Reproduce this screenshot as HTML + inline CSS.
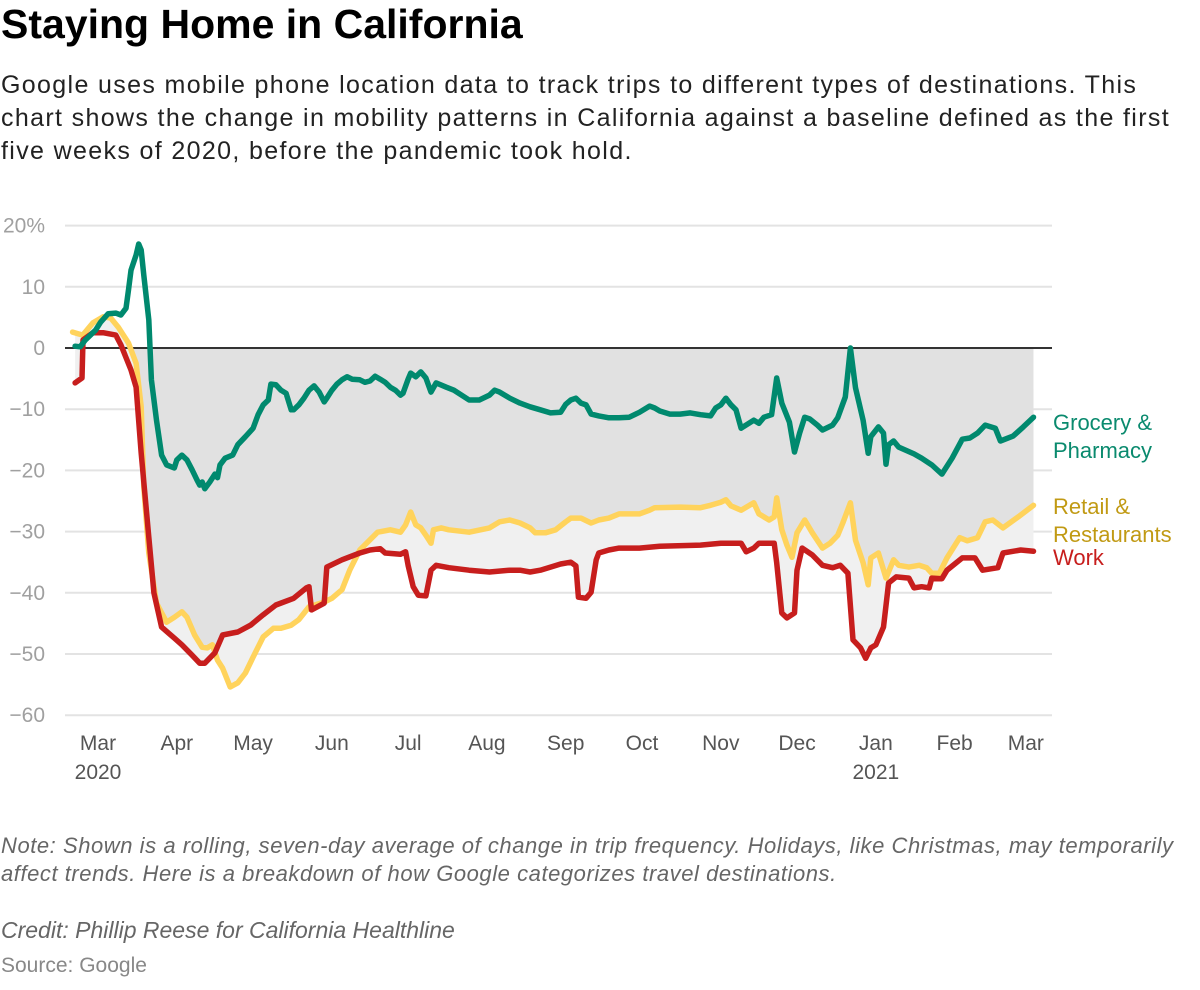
<!DOCTYPE html>
<html><head><meta charset="utf-8">
<style>
body{margin:0;background:#fff;font-family:"Liberation Sans",sans-serif;}
#wrap{position:relative;width:1200px;height:990px;overflow:hidden;}
h1{position:absolute;left:1px;top:1px;margin:0;font-size:41px;font-weight:bold;color:#000;white-space:nowrap;}
.sub{position:absolute;left:1px;top:69px;width:1199px;font-size:25px;letter-spacing:1.35px;line-height:33px;color:#222;margin:0;white-space:nowrap;}
.note{position:absolute;left:1px;font-style:italic;font-size:22px;line-height:28px;color:#666;margin:0;white-space:nowrap;}
.src{position:absolute;left:1px;top:954px;font-size:21px;color:#888;margin:0;}
svg{position:absolute;left:0;top:0;}
</style></head><body>
<div id="wrap">
<h1>Staying Home in California</h1>
<p class="sub">Google uses mobile phone location data to track trips to different types of destinations. This<br>chart shows the change in mobility patterns in California against a baseline defined as the first<br>five weeks of 2020, before the pandemic took hold.</p>
<svg id="chart" width="1200" height="990"></svg>
<p class="note" style="top:832px;letter-spacing:0.55px">Note: Shown is a rolling, seven-day average of change in trip frequency. Holidays, like Christmas, may temporarily<br>affect trends. Here is a breakdown of how Google categorizes travel destinations.</p>
<p class="note" style="top:916px;font-size:23px">Credit: Phillip Reese for California Healthline</p>
<p class="src">Source: Google</p>
</div>
<script>
// days since 2020-03-01
const groceryDays=[-9,-7,-5,-1,1,4,7,9,11,12,13,15,16,17,18,20,21,23,25,27,30,31,33,35,37,39,40,41,42,44,46,47,48,50,53,55,58,61,63,65,67,68,70,72,74,76,77,79,81,83,85,87,89,90,92,94,96,98,100,103,105,107,109,111,113,115,117,119,120,122,123,125,127,129,131,133,137,140,146,150,154,156,158,162,166,170,174,178,182,184,186,188,190,192,194,197,201,205,209,213,217,219,221,225,229,233,237,241,243,245,247,249,251,253,258,260,262,265,267,269,272,274,276,278,280,283,285,289,291,294,296,298,301,303,304,307,309,310,311,313,315,321,324,328,332,336,340,343,346,349,353,355,360,364,368];
const groceryVals=[0.3,0.2,1.3,2.9,4.2,5.6,5.7,5.4,6.5,9.5,12.7,15.2,17,16,11.9,4.6,-5.2,-11.8,-17.5,-19.1,-19.6,-18.3,-17.5,-18.3,-19.9,-21.6,-22.4,-21.9,-23,-21.9,-20.6,-21.2,-19.1,-18,-17.5,-15.8,-14.5,-13.1,-10.9,-9.3,-8.5,-5.9,-6,-6.9,-7.4,-10.1,-10.1,-9.3,-8.2,-6.9,-6.2,-7.2,-8.8,-8.2,-6.9,-5.9,-5.2,-4.7,-5.1,-5.2,-5.6,-5.4,-4.6,-5.1,-5.6,-6.4,-6.9,-7.7,-7.4,-5.1,-4.1,-4.7,-3.9,-4.9,-7.2,-5.7,-6.4,-6.9,-8.5,-8.5,-7.7,-6.9,-7.2,-8.2,-9,-9.6,-10.1,-10.6,-10.5,-9.2,-8.5,-8.2,-9,-9.3,-10.8,-11.1,-11.4,-11.4,-11.3,-10.5,-9.5,-9.8,-10.3,-10.8,-10.8,-10.6,-10.9,-11.1,-9.8,-9.3,-8.2,-9.3,-10.1,-13.1,-11.8,-12.3,-11.3,-10.9,-4.9,-9,-12.1,-17,-13.9,-11.3,-11.6,-12.6,-13.4,-12.6,-11.4,-8,0,-6.5,-11.8,-17.2,-14.5,-12.9,-13.9,-19,-15.8,-15.2,-16.2,-17.3,-18,-19.1,-20.6,-18,-14.9,-14.7,-13.9,-12.6,-13.1,-15.2,-14.4,-12.9,-11.3];
const retailDays=[-10,-6,-2,2,5,8,12,15,17,18,20,23,27,30,33,35,38,41,43,45,47,49,52,55,58,61,65,69,72,76,79,83,89,92,96,99,103,110,115,119,121,123,125,127,129,131,132,135,138,146,154,158,162,166,170,172,176,180,184,186,190,194,197,201,205,213,217,219,229,237,241,245,247,249,253,258,260,264,266,267,269,271,273,275,278,281,285,288,291,293,296,298,301,303,304,307,310,313,315,319,323,326,328,331,334,339,342,346,349,352,356,362,368];
const retailVals=[2.6,2.1,4.1,5.1,4.9,3.4,0.8,-2.5,-9.6,-22.7,-33.5,-41.7,-44.8,-44,-43.1,-44,-46.9,-48.9,-49,-48.5,-51,-52.3,-55.4,-54.7,-53.1,-50.5,-47.2,-45.8,-45.8,-45.3,-44.4,-42.3,-41.5,-40.9,-39.5,-36.3,-33,-30.1,-29.7,-30.1,-28.9,-26.8,-28.9,-29.4,-30.6,-31.9,-29.7,-29.4,-29.7,-30.1,-29.4,-28.4,-28.1,-28.6,-29.4,-30.2,-30.2,-29.7,-28.4,-27.8,-27.8,-28.6,-28.1,-27.8,-27.1,-27.1,-26.5,-26.1,-26,-26.1,-25.7,-25.2,-24.8,-25.8,-26.5,-25.3,-27.1,-28.1,-27.6,-24.5,-29.7,-32.2,-34.2,-30.2,-28.1,-30.2,-32.7,-31.9,-30.6,-28.6,-25.3,-31.4,-35.1,-38.7,-34.3,-33.5,-37.6,-34.6,-35.5,-35.8,-35.5,-35.9,-36.8,-36.8,-34.3,-31,-31.5,-31,-28.4,-28.1,-29.4,-27.6,-25.7];
const workDays=[-9,-6.3,-5.9,-2,2,7,9,13,15,17,20,22,25,30,33,37,40,42,46,49,55,60,65,70,77,82,83,84,89,90,96,103,107,111,113,119,121,122,124,126,129,131,133,138,146,154,162,166,170,174,178,182,186,188,189,192,194,196,197,201,205,213,221,237,245,253,255,258,260,266,267,269,271,274,275,277,281,285,289,292,295,297,300,302,304,306,309,311,314,319,321,324,327,328,332,334,340,345,348,354,356,363,368];
const workVals=[-5.7,-4.9,1.3,2.5,2.5,2.1,0.5,-3.6,-6.4,-17.2,-30.9,-40,-45.6,-47.4,-48.5,-50.2,-51.5,-51.5,-49.8,-46.9,-46.4,-45.3,-43.6,-42,-40.9,-39.2,-39,-42.8,-41.7,-35.8,-34.6,-33.5,-33,-32.8,-33.5,-33.7,-33.3,-35.5,-39,-40.4,-40.5,-36.3,-35.5,-35.9,-36.3,-36.6,-36.3,-36.3,-36.6,-36.3,-35.8,-35.3,-35,-35.6,-40.7,-40.9,-39.9,-34.6,-33.5,-33,-32.7,-32.7,-32.4,-32.2,-31.9,-31.9,-33.3,-32.7,-31.9,-31.9,-35.1,-43.3,-44.1,-43.3,-36.3,-32.7,-33.8,-35.5,-35.9,-35.5,-36.8,-47.7,-49,-50.7,-49,-48.5,-45.6,-38.4,-37.4,-37.6,-39.2,-39,-39.2,-37.6,-37.7,-36.3,-34.3,-34.3,-36.3,-35.9,-33.5,-33,-33.2];
const yTicks=[20,10,0,-10,-20,-30,-40,-50,-60];
const yTickLabels=["20%","10","0","−10","−20","−30","−40","−50","−60"];
const monthDays=[0,31,61,92,122,153,184,214,245,275,306,337,365];
const monthLabels=["Mar","Apr","May","Jun","Jul","Aug","Sep","Oct","Nov","Dec","Jan","Feb","Mar"];
const yearLabels={0:"2020",10:"2021"};

(function(){
const NS="http://www.w3.org/2000/svg";
const svg=document.getElementById('chart');
const X0=65,X1=1052;
const xS=d=>98+d*2.542;
const yS=v=>348-v*6.12;
function mk(t,a){const e=document.createElementNS(NS,t);for(const k in a)e.setAttribute(k,a[k]);svg.appendChild(e);return e;}
function interp(ds,vs,d){if(d<=ds[0])return vs[0];for(let i=1;i<ds.length;i++){if(d<=ds[i]){const t=(d-ds[i-1])/(ds[i]-ds[i-1]||1);return vs[i-1]+t*(vs[i]-vs[i-1]);}}return vs[vs.length-1];}

yTicks.forEach((v,i)=>{
  if(v===0)return;
  const g=mk('line',{x1:X0,x2:X1,y1:yS(v),y2:yS(v),stroke:'#e3e3e3','stroke-width':2});
  
  
});
const dStart=-9,dEnd=368;
const upper=[],lower=[];
for(let d=dStart;d<=dEnd;d+=0.5){
  const r=interp(retailDays,retailVals,d),w=interp(workDays,workVals,d);
  upper.push([xS(d),yS(Math.max(r,w))]);lower.push([xS(d),yS(Math.min(r,w))]);
}
const p1='M'+xS(dStart)+','+yS(0)+' '+upper.map(p=>'L'+p[0].toFixed(1)+','+Math.max(p[1],yS(0)).toFixed(1)).join(' ')+' L'+xS(dEnd)+','+yS(0)+'Z';
const a1=mk('path',{d:p1,fill:'#e1e1e1'});


const p2='M'+upper.map(p=>p[0].toFixed(1)+','+p[1].toFixed(1)).join(' L')+' L'+lower.slice().reverse().map(p=>p[0].toFixed(1)+','+p[1].toFixed(1)).join(' L')+'Z';
const a2=mk('path',{d:p2,fill:'#f0f0f0'});


const z=mk('line',{x1:X0,x2:X1,y1:yS(0),y2:yS(0),stroke:'#333','stroke-width':2});


yTicks.forEach((v,i)=>{
  const t=mk('text',{x:45,y:yS(v)+7,'text-anchor':'end','font-size':21,fill:'#a0a0a0','font-family':'Liberation Sans, sans-serif'});
  t.textContent=yTickLabels[i];
  
  
});
monthDays.forEach((d,i)=>{
  const t=mk('text',{x:xS(d),y:750,'text-anchor':'middle','font-size':21,fill:'#555','font-family':'Liberation Sans, sans-serif'});
  t.textContent=monthLabels[i];
  
  
  if(yearLabels[i]){
    const y=mk('text',{x:xS(d),y:779,'text-anchor':'middle','font-size':21,fill:'#555','font-family':'Liberation Sans, sans-serif'});
    y.textContent=yearLabels[i];
    
    
  }
});
function line(ds,vs,color,name){
  const d='M'+ds.map((dd,i)=>xS(dd).toFixed(1)+','+yS(vs[i]).toFixed(1)).join(' L');
  const p=mk('path',{d:d,fill:'none',stroke:color,'stroke-width':5.5,'stroke-linejoin':'round','stroke-linecap':'round'});
  
  
}
line(retailDays,retailVals,'#ffd35c','retail-line');
line(workDays,workVals,'#c71e1d','work-line');
line(groceryDays,groceryVals,'#00896e','grocery-line');
function lab(txt,y,color,name){
  const t=mk('text',{x:1053,y:y,'font-size':22,fill:color,'font-family':'Liberation Sans, sans-serif'});
  t.textContent=txt;
  
  
}
lab('Grocery &',430,'#0a8a6e','grocery-label');
lab('Pharmacy',458,'#0a8a6e','grocery-label-2');
lab('Retail &',514,'#c19a14','retail-label');
lab('Restaurants',542,'#c19a14','retail-label-2');
lab('Work',565,'#c71e1d','work-label');
})();
</script>
</body></html>
